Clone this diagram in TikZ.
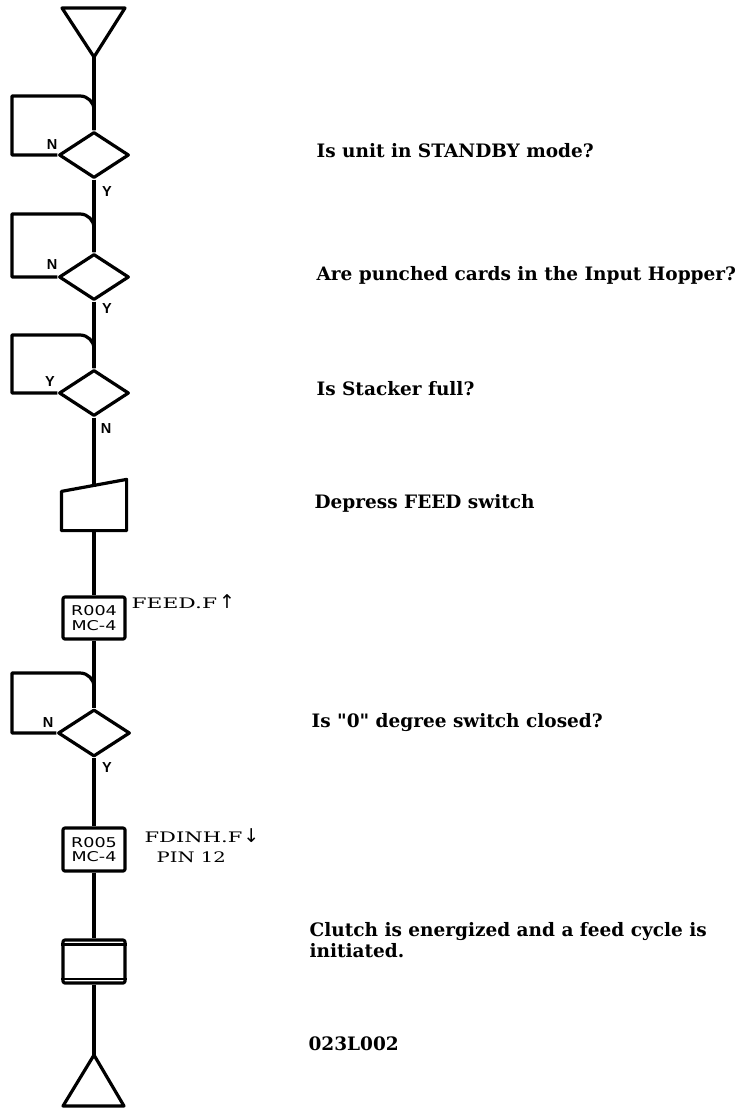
\documentclass[tikz,border=0pt]{standalone}
\usepackage{fontspec}
\newfontfamily\descfont{DejaVu Serif}
\newfontfamily\sigfont{DejaVu Serif}
\newfontfamily\labfont{Liberation Sans}
\newfontfamily\boxfont{DejaVu Sans}
\newfontfamily\arrfont{DejaVu Sans}
\usetikzlibrary{shapes.geometric,calc}
\begin{document}
\begin{tikzpicture}[x=1pt,y=-1pt,line width=3.2pt,line join=round,
  dec/.style={diamond,draw,minimum width=70pt,minimum height=46pt,inner sep=0pt,aspect=1.5},
  refbox/.style={draw,rounded corners=2pt,minimum width=62pt,minimum height=42pt,inner sep=0pt,
     align=center,font=\boxfont\fontsize{13.5}{14.5}\selectfont},
  yn/.style={font=\labfont\bfseries\fontsize{14.5}{15}\selectfont,inner sep=0pt},
  desc/.style={anchor=base west,inner sep=0pt,font=\descfont\bfseries\fontsize{18.5}{21}\selectfont,align=left},
  sig/.style={anchor=base west,inner sep=0pt,font=\sigfont\fontsize{14.5}{16}\selectfont,align=left}]
\useasboundingbox (0,0) rectangle (736,1108);

% terminal top
\draw (62,8) -- (125,8) -- (94,57) -- cycle;
\coordinate (t1) at (94,57);

% decisions
\node[dec] (d1) at (94,155) {};
\node[dec] (d2) at (94,277) {};
\node[dec] (d3) at (94,393) {};
\node[dec,minimum width=72pt,minimum height=47pt] (d4) at (94,733) {};

% manual input
\node[minimum width=62pt,minimum height=48pt,inner sep=0pt] (mi) at (94,505) {};
\draw (mi.south west) -- (mi.south east) -- (mi.north east) -- ($(mi.north west)+(0,12)$) -- cycle;
\coordinate (mitop) at (94,487);

% reference boxes
\node[refbox] (b1) at (94,618) {\scalebox{1.3}[1]{R004}\\\scalebox{1.3}[1]{MC-4}};
\node[refbox,minimum height=43pt] (b2) at (94,849.5) {\scalebox{1.3}[1]{R005}\\\scalebox{1.3}[1]{MC-4}};

% clutch box
\node[draw,rounded corners=2pt,minimum width=62pt,minimum height=43pt,inner sep=0pt] (cl) at (94,961.5) {};
\draw[line width=2.2pt] ($(cl.north west)+(0,6)$) -- ($(cl.north east)+(0,6)$);
\draw[line width=2.2pt] ($(cl.south west)+(0,-6)$) -- ($(cl.south east)+(0,-6)$);

% terminal bottom
\draw (94,1055) -- (124,1106) -- (63,1106) -- cycle;
\coordinate (t2) at (94,1055);

% main flow
\draw (t1) -- (d1.north);
\draw (d1.south) -- (d2.north);
\draw (d2.south) -- (d3.north);
\draw (d3.south) -- (mitop);
\draw (mi.south) -- (b1.north);
\draw (b1.south) -- (d4.north);
\draw (d4.south) -- (b2.north);
\draw (b2.south) -- (cl.north);
\draw (cl.south) -- (t2);

% loops
\draw (d1.west) -- (12,155) -- (12,96) -- (80,96) arc[start angle=-90,end angle=0,radius=14] -- (d1.north);
\draw (d2.west) -- (12,277) -- (12,214) -- (80,214) arc[start angle=-90,end angle=0,radius=14] -- (d2.north);
\draw (d3.west) -- (12,393) -- (12,335) -- (80,335) arc[start angle=-90,end angle=0,radius=14] -- (d3.north);
\draw (d4.west) -- (12,733) -- (12,673) -- (80,673) arc[start angle=-90,end angle=0,radius=14] -- (d4.north);

% Y/N labels
\node[yn] at (52,145) {N};
\node[yn] at (107,192) {Y};
\node[yn] at (52,265) {N};
\node[yn] at (107,309) {Y};
\node[yn] at (50,382) {Y};
\node[yn] at (106,429) {N};
\node[yn] at (48,723) {N};
\node[yn] at (107,768) {Y};

% signal labels
\node[sig] (s1) at (130,608) {\scalebox{1.5}[1]{FEED.F}\hspace{2pt}{\arrfont\fontsize{19}{20}\selectfont ↑}};
\node[sig] (s2) at (143,842) {\scalebox{1.45}[1]{FDINH.F}\hspace{1pt}{\arrfont\fontsize{19}{20}\selectfont ↓}};
\node[sig] (s3) at (155,862) {\scalebox{1.35}[1]{PIN 12}};

% descriptions
\node[desc] (q1) at (315,157) {Is unit in STANDBY mode?};
\node[desc] (q2) at (315,280) {Are punched cards in the Input Hopper?};
\node[desc] (q3) at (315,395) {Is Stacker full?};
\node[desc] (q4) at (313,508) {Depress FEED switch};
\node[desc] (q5) at (310,727) {Is "0" degree switch closed?};
\node[desc] (q6) at (308,957) {Clutch is energized and a feed cycle is\\initiated.};
\node[desc] (q7) at (307,1050) {023L002};
\end{tikzpicture}
\end{document}
